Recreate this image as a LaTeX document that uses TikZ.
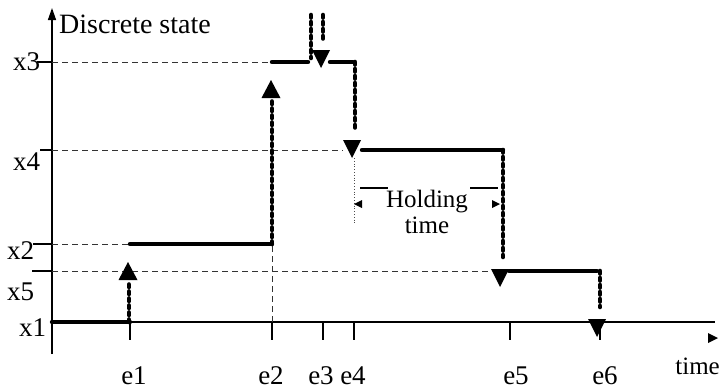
\documentclass[tikz,border=0pt]{standalone}
\usepackage{fontspec}
\setmainfont{Liberation Serif}
\usetikzlibrary{arrows.meta}
\begin{document}
\begin{tikzpicture}[x=1pt,y=-1pt,
  axis/.style={line width=1.4pt},
  tickmark/.style={line width=1.2pt},
  guide/.style={line width=1pt, dash pattern=on 6pt off 4pt, black!80},
  state/.style={line width=4.4pt, line cap=round},
  jump/.style={line width=4.6pt, line cap=round, dash pattern=on 2.5pt off 4.5pt},
  holdline/.style={line width=0.8pt, dotted, black!70},
  dimline/.style={line width=1.2pt},
  lbl/.style={inner sep=0pt, font=\fontsize{27}{27}\selectfont},
  smalllbl/.style={inner sep=0pt, font=\fontsize{25}{25}\selectfont},
  utri/.pic={\fill (-9.5,18) -- (9.5,18) -- (0,0) -- cycle;},
  dtri/.pic={\fill (-9,-18) -- (9,-18) -- (0,0) -- cycle;}
]
\useasboundingbox (0,0) rectangle (724,389);
% axes
\draw[axis,-{Triangle[width=8pt,length=12pt]}] (52,354) -- (52,8);
\draw[axis] (52,322) -- (715,322);
\fill (708,333) -- (718,338) -- (708,343) -- cycle;
% ticks on time axis
\foreach \x in {130,272,323,354,510,600} \draw[tickmark] (\x,322) -- (\x,340);
% ticks on state axis
\draw[tickmark] (37,62) -- (52,62);
\draw[tickmark] (40,150) -- (52,150);
\draw[tickmark] (33,244) -- (52,244);
\draw[tickmark] (32,271) -- (52,271);
% guides
\draw[guide] (52,62) -- (270,62);
\draw[guide] (52,150) -- (343,150);
\draw[guide] (52,244) -- (128,244);
\draw[guide] (52,271) -- (492,271);
\draw[guide] (272,322) -- (272,246);
% states
\draw[state] (52,322) -- (130,322);
\draw[state] (130,244) -- (272,244);
\draw[state] (272,62) -- (308,62);
\draw[state] (330,62) -- (353,62);
\draw[state] (362,150) -- (503,150);
\draw[state] (509,271) -- (597,271);
% jumps
\draw[jump] (129,322) -- (129,280);
\pic at (128,262) {utri};
\draw[jump] (272,244) -- (272,98);
\pic at (271,80) {utri};
\draw[jump] (311,15) -- (311,58);
\draw[jump] (323,15) -- (323,40);
\pic at (321,68) {dtri};
\draw[jump] (355,62) -- (355,128);
\pic at (352,158) {dtri};
\draw[jump] (503,150) -- (503,257);
\pic at (500,287) {dtri};
\draw[jump] (600,271) -- (600,307);
\pic at (597,337) {dtri};
% holding time
\draw[holdline] (354,158) -- (354,225);
\draw[dimline] (360,188) -- (388,188);
\draw[dimline] (470,188) -- (498,188);
\fill (354,204) -- (362,200) -- (362,208) -- cycle;
\fill (500,204) -- (492,200) -- (492,208) -- cycle;
\node[smalllbl, anchor=base] (hold) at (427,207) {Holding};
\node[smalllbl, anchor=base] (holdt) at (427,233) {time};
% labels
\node[lbl, font=\fontsize{28}{28}\selectfont, anchor=base west] (ylab) at (59,33) {Discrete state};
\node[lbl, anchor=base west] (lx3) at (13,70) {x3};
\node[lbl, anchor=base west] (lx4) at (13,170) {x4};
\node[lbl, anchor=base west] (lx2) at (7,259) {x2};
\node[lbl, anchor=base west] (lx5) at (7,300) {x5};
\node[lbl, anchor=base west] (lx1) at (19,336) {x1};
\node[lbl, anchor=base] (le1) at (134,384) {e1};
\node[lbl, anchor=base] (le2) at (271,384) {e2};
\node[lbl, anchor=base] (le3) at (321,384) {e3};
\node[lbl, anchor=base] (le4) at (353,384) {e4};
\node[lbl, anchor=base] (le5) at (516,384) {e5};
\node[lbl, anchor=base] (le6) at (605,384) {e6};
\node[smalllbl, anchor=base east] (ltime) at (720,374) {time};
\end{tikzpicture}
\end{document}
